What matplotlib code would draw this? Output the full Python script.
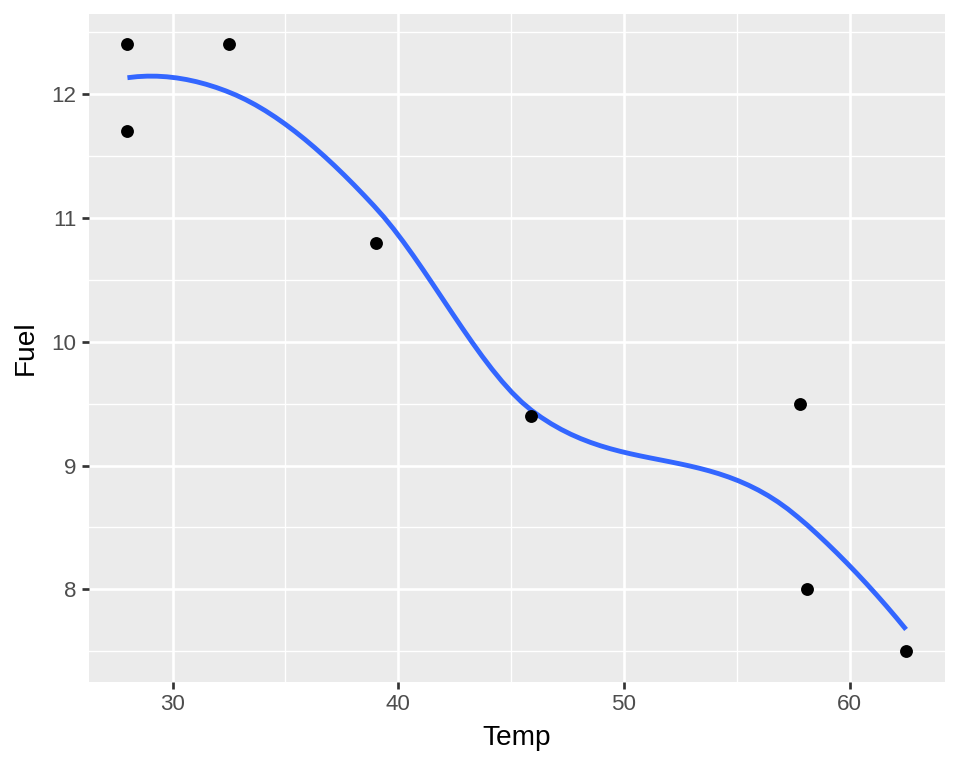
import numpy as np
import matplotlib
matplotlib.use("Agg")
import matplotlib.pyplot as plt

# data
temp = [28.0, 28.0, 32.5, 39.0, 45.9, 57.8, 58.1, 62.5]
fuel = [12.4, 11.7, 12.4, 10.8, 9.4, 9.5, 8.0, 7.5]
x_ticks = [30, 40, 50, 60]
y_ticks = [8, 9, 10, 11, 12]
x_label = "Temp"
y_label = "Fuel"


def local_fit(x, y, x0, q):
    n = len(x)
    d = np.abs(x - x0)
    h = np.sort(d)[q - 1]
    h = h * 1.0000001 if h > 0 else 1e-9
    u = np.clip(d / h, 0, 1)
    w = (1 - u ** 3) ** 3
    X = np.column_stack([np.ones(n), x - x0, (x - x0) ** 2])
    W = np.diag(w)
    beta = np.linalg.lstsq(X.T @ W @ X, X.T @ W @ y, rcond=None)[0]
    return beta[0], beta[1]


def loess_interp(x, y, xs, span=0.75, cell=0.2):
    # loess smooth (degree 2) evaluated on a 1-D k-d tree with cubic
    # Hermite interpolation, as R's loess(surface = "interpolate")
    x = np.asarray(x, float)
    y = np.asarray(y, float)
    n = len(x)
    q = int(np.floor(n * span))
    fc = int(np.floor(n * span * cell))
    xsorted = np.sort(x)
    a, b = xsorted[0], xsorted[-1]
    mu = 0.005 * (b - a)
    verts = {a - mu, b + mu}

    def split(l, u, vlo, vhi):
        if (u - l + 1) <= fc:
            return
        m = (l + u) // 2
        off = 0
        while l <= m + off < u:
            if xsorted[m + off] == xsorted[m + off + 1]:
                off = -off
                if off >= 0:
                    off += 1
            else:
                m = m + off
                break
        val = xsorted[m]
        if val == vlo or val == vhi:
            return
        verts.add(val)
        split(l, m, vlo, val)
        split(m + 1, u, val, vhi)

    split(0, n - 1, a - mu, b + mu)
    vs = np.array(sorted(verts))
    fits = [local_fit(x, y, v, q) for v in vs]
    f = np.array([t[0] for t in fits])
    dv = np.array([t[1] for t in fits])
    out = []
    for x0 in xs:
        i = np.searchsorted(vs, x0) - 1
        i = min(max(i, 0), len(vs) - 2)
        h = vs[i + 1] - vs[i]
        t = (x0 - vs[i]) / h
        p0 = (1 - t) ** 2 * (1 + 2 * t)
        p1 = t ** 2 * (3 - 2 * t)
        s0 = t * (1 - t) ** 2
        s1 = -t ** 2 * (1 - t)
        out.append(p0 * f[i] + p1 * f[i + 1] + (s0 * dv[i] + s1 * dv[i + 1]) * h)
    return np.array(out)


xs = np.linspace(min(temp), max(temp), 80)
ys = loess_interp(temp, fuel, xs)

plt.rcParams["font.family"] = ["Liberation Sans", "DejaVu Sans"]
fig = plt.figure(figsize=(9.6, 7.68), dpi=100)
ax = fig.add_axes([88.5 / 960, 1 - 681.7 / 768, (945 - 88.5) / 960, (681.7 - 14) / 768])
ax.set_facecolor("#EBEBEB")
for s in ax.spines.values():
    s.set_visible(False)

xr = max(temp) - min(temp)
yr = max(fuel) - min(fuel)
ax.set_xlim(min(temp) - 0.05 * xr, max(temp) + 0.05 * xr)
ax.set_ylim(min(fuel) - 0.05 * yr, max(fuel) + 0.05 * yr)

ax.set_xticks(x_ticks)
ax.set_yticks(y_ticks)
ax.set_xticklabels([str(t) for t in x_ticks])
ax.set_yticklabels([str(t) for t in y_ticks])
ax.set_xticks([35, 45, 55], minor=True)
ax.set_yticks([7.5, 8.5, 9.5, 10.5, 11.5, 12.5], minor=True)

ax.grid(which="major", color="white", linewidth=1.94)
ax.grid(which="minor", color="white", linewidth=0.97)
ax.set_axisbelow(True)
ax.tick_params(which="major", length=5.04, width=1.94, color="#333333",
               labelsize=16.1, labelcolor="#4D4D4D", pad=3.5)
ax.tick_params(which="minor", length=0)

ax.plot(xs, ys, color="#3366FF", linewidth=3.5, solid_capstyle="butt", zorder=3)
ax.scatter(temp, fuel, s=86, color="black", linewidths=0, zorder=4)

ax.set_xlabel(x_label, fontsize=20.2, labelpad=7.5)
ax.set_ylabel(y_label, fontsize=20.2, labelpad=9.5)

fig.savefig("out.png", dpi=100)
